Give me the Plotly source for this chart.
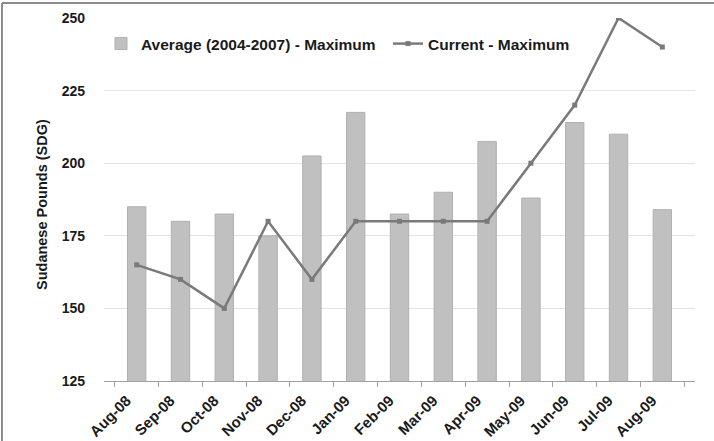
import plotly.graph_objects as go

months = ["Aug-08", "Sep-08", "Oct-08", "Nov-08", "Dec-08", "Jan-09", "Feb-09",
          "Mar-09", "Apr-09", "May-09", "Jun-09", "Jul-09", "Aug-09"]
avg_max = [185, 180, 182.5, 175, 202.5, 217.5, 182.5, 190, 207.5, 188, 214, 210, 184]
cur_max = [165, 160, 150, 180, 160, 180, 180, 180, 180, 200, 220, 250, 240]
y_ticks = [125, 150, 175, 200, 225, 250]

W, H = 714, 441
L, R, T, B = 104, 19, 18, 60
pw = W - L - R
ph = H - T - B

fam = "Liberation Sans, Arial, sans-serif"
txt = "#1a1a1a"
leg_font = dict(family=fam, size=15.5, color=txt, weight="bold")

fig = go.Figure()
fig.add_trace(go.Bar(
    x=months, y=avg_max, name="Average (2004-2007) - Maximum",
    marker=dict(color="#c0c0c0", line=dict(color="#b0b0b0", width=1)),
    width=0.42, legend="legend",
))
fig.add_trace(go.Scatter(
    x=months, y=cur_max, name="Current - Maximum", mode="lines+markers",
    line=dict(color="#7a7a7a", width=2.5),
    marker=dict(symbol="square", size=5, color="#7a7a7a"),
    legend="legend2",
))

fig.update_layout(
    width=W, height=H,
    margin=dict(l=L, r=R, t=T, b=B, pad=0, autoexpand=False),
    paper_bgcolor="white", plot_bgcolor="white",
    font=dict(family=fam, size=14, color=txt),
    showlegend=True,
    legend=dict(
        orientation="h", x=(101 - L) / pw, y=(H - B - 44) / ph,
        xanchor="left", yanchor="middle", font=leg_font,
        bgcolor="rgba(0,0,0,0)", itemwidth=30,
    ),
    legend2=dict(
        orientation="h", x=(388 - L) / pw, y=(H - B - 44) / ph,
        xanchor="left", yanchor="middle", font=leg_font,
        bgcolor="rgba(0,0,0,0)", itemwidth=30,
    ),
    bargap=0.58,
)
fig.update_xaxes(
    type="category", showgrid=False, showline=True, linecolor="#a0a0a0", linewidth=1,
    ticks="outside", tickson="boundaries", ticklen=5, tickcolor="#a0a0a0",
    tickangle=-45, ticklabelstandoff=4, ticklabelshift=-10, automargin=False,
    tickfont=dict(family=fam, size=15, color=txt, weight="bold"),
)
fig.update_yaxes(
    range=[125, 250], tickvals=y_ticks, showgrid=True, gridcolor="#e4e4e4", gridwidth=1,
    zeroline=False, showline=False, ticks="", ticklabelstandoff=18, automargin=False,
    tickfont=dict(family=fam, size=14, color=txt, weight="bold"),
)
fig.add_annotation(
    text="Sudanese Pounds (SDG)", xref="paper", yref="paper",
    x=(42 - L) / pw, y=(H - B - 205) / ph, xanchor="center", yanchor="middle",
    textangle=-90, showarrow=False,
    font=dict(family=fam, size=14.5, color=txt, weight="bold"),
)
# frame lines (left and top)
fig.add_shape(type="line", xref="paper", yref="paper",
              x0=(2 - L) / pw, x1=(2 - L) / pw, y0=-B / ph, y1=(H - B - 3) / ph,
              line=dict(color="#8c8c8c", width=2))
fig.add_shape(type="line", xref="paper", yref="paper",
              x0=(2 - L) / pw, x1=(W - L) / pw, y0=(H - B - 3) / ph, y1=(H - B - 3) / ph,
              line=dict(color="#8c8c8c", width=2))

fig.write_html("out.html")
